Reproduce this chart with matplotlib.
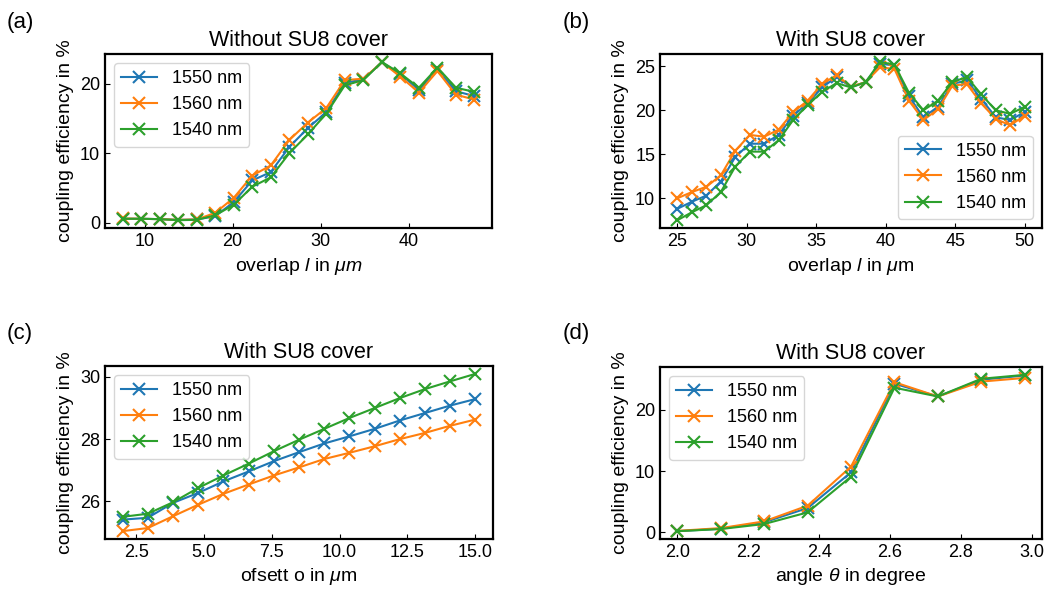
import numpy as np
import matplotlib
matplotlib.use("Agg")
import matplotlib.pyplot as plt

plt.rcParams['font.family'] = ['Liberation Sans', 'DejaVu Sans']
plt.rcParams['mathtext.fontset'] = 'custom'
plt.rcParams['mathtext.rm'] = 'Liberation Sans'
plt.rcParams['mathtext.it'] = 'Liberation Sans:italic'
plt.rcParams['font.size'] = 13
plt.rcParams['axes.linewidth'] = 1.6
plt.rcParams['xtick.direction'] = 'in'
plt.rcParams['ytick.direction'] = 'in'

labels = ["1550 nm", "1560 nm", "1540 nm"]
colors = ["tab:blue", "tab:orange", "tab:green"]

# (a) without SU8 cover
overlap_a = np.linspace(7.5, 47.5, 20)
a_1550 = [0.6, 0.6, 0.55, 0.45, 0.5, 0.97, 3.0, 6.1, 7.3, 10.9, 13.6, 15.9, 20.1, 20.6,
          23.05, 21.35, 19.1, 22.0, 18.9, 18.2]
a_1560 = [0.65, 0.6, 0.55, 0.45, 0.5, 1.45, 3.6, 6.8, 8.25, 11.9, 14.4, 16.5, 20.5, 20.7,
          23.05, 21.0, 18.7, 21.8, 18.4, 17.7]
a_1540 = [0.6, 0.6, 0.55, 0.4, 0.45, 1.1, 2.6, 5.2, 6.55, 10.0, 12.7, 15.7, 19.75, 20.5,
          23.1, 21.45, 19.4, 22.3, 19.4, 18.8]

# (b) with SU8 cover
overlap_b = np.linspace(25, 50, 25)
b_1550 = [8.8, 9.6, 10.3, 11.9, 14.7, 16.2, 16.2, 17.2, 19.4, 20.8, 22.6, 23.8, 22.65,
          23.2, 25.3, 25.1, 21.6, 19.2, 20.4, 23.0, 23.4, 21.3, 19.2, 18.9, 19.8]
b_1560 = [10.0, 10.7, 11.3, 12.6, 15.4, 17.2, 17.0, 17.8, 19.8, 21.1, 23.0, 24.0, 22.7,
          23.2, 24.9, 24.7, 21.1, 18.9, 20.1, 22.8, 23.0, 20.8, 19.0, 18.3, 19.4]
b_1540 = [7.5, 8.4, 9.2, 10.7, 13.6, 15.3, 15.3, 16.6, 18.9, 20.6, 22.1, 23.1, 22.6,
          23.2, 25.5, 25.2, 22.0, 20.0, 21.1, 23.2, 23.8, 21.8, 20.0, 19.6, 20.4]

# (c) offset scan
offset_c = np.linspace(2, 15, 15)
c_1550 = [25.41, 25.47, 25.95, 26.27, 26.64, 26.96, 27.29, 27.58, 27.86, 28.09, 28.33,
          28.6, 28.84, 29.08, 29.29]
c_1560 = [25.04, 25.14, 25.52, 25.89, 26.24, 26.54, 26.83, 27.09, 27.36, 27.56, 27.77,
          28.0, 28.2, 28.43, 28.63]
c_1540 = [25.5, 25.6, 25.97, 26.43, 26.83, 27.21, 27.61, 27.98, 28.33, 28.68, 29.0,
          29.32, 29.61, 29.86, 30.1]

# (d) angle scan
angle_d = np.linspace(2.0, 2.98, 9)
d_1550 = [0.2, 0.6, 1.65, 3.98, 9.8, 24.25, 22.17, 24.9, 25.6]
d_1560 = [0.25, 0.7, 1.8, 4.36, 10.74, 24.5, 22.17, 24.6, 25.2]
d_1540 = [0.2, 0.55, 1.37, 3.27, 9.1, 23.6, 22.17, 25.06, 25.7]

fig = plt.figure(figsize=(10.49, 5.94), dpi=100)
ax_a = fig.add_axes([0.1001, 0.616, 0.369, 0.293])
ax_b = fig.add_axes([0.6292, 0.616, 0.3642, 0.293])
ax_c = fig.add_axes([0.1001, 0.0926, 0.3698, 0.2912])
ax_d = fig.add_axes([0.6292, 0.0926, 0.3642, 0.2895])

panels = [
    (ax_a, overlap_a, [a_1550, a_1560, a_1540], "Without SU8 cover", r"overlap $l$ in $\mu m$", "upper left"),
    (ax_b, overlap_b, [b_1550, b_1560, b_1540], "With SU8 cover", r"overlap $l$ in $\mu$m", "lower right"),
    (ax_c, offset_c, [c_1550, c_1560, c_1540], "With SU8 cover", r"ofsett o in $\mu$m", "upper left"),
    (ax_d, angle_d, [d_1550, d_1560, d_1540], "With SU8 cover", r"angle $\theta$ in degree", "upper left"),
]

for ax, x, series, title, xlabel, loc in panels:
    for y, lab, c in zip(series, labels, colors):
        ax.plot(x, y, marker='x', markersize=9, markeredgewidth=1.5, lw=1.5, color=c, label=lab)
    ax.set_title(title, fontsize=15.5)
    ax.set_xlabel(xlabel, fontsize=14)
    ax.set_ylabel("coupling efficiency in %", fontsize=14)
    ax.legend(loc=loc)

ax_a.set_xticks([10, 20, 30, 40])
ax_b.set_xticks([25, 30, 35, 40, 45, 50])
ax_c.set_yticks([26, 28, 30])

for lab, (xx, yy) in zip(["(a)", "(b)", "(c)", "(d)"],
                         [(0.006, 0.953), (0.536, 0.953), (0.006, 0.43), (0.536, 0.43)]):
    fig.text(xx, yy, lab, fontsize=16)

fig.savefig("out.png", dpi=100)
